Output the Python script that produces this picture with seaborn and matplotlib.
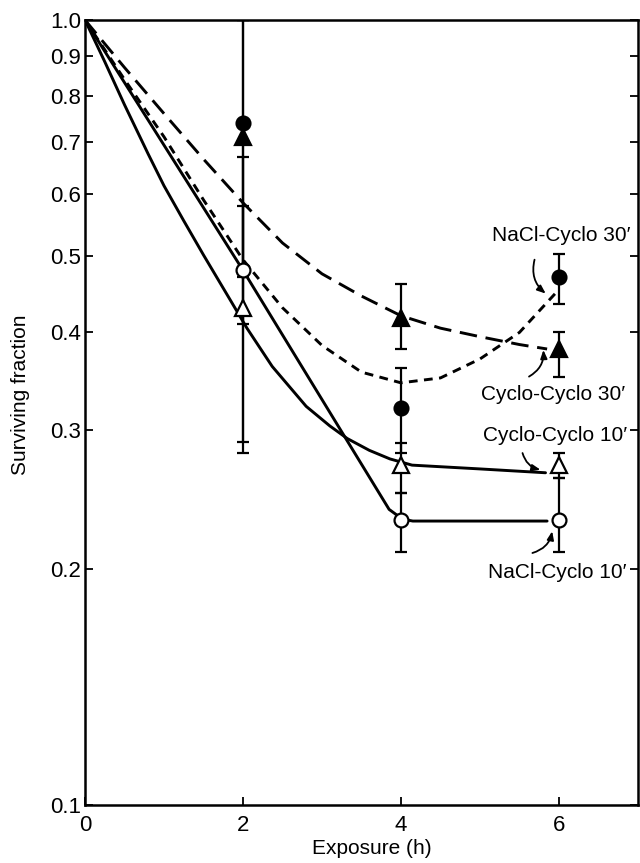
import numpy as np
import pandas as pd
import seaborn as sns
import matplotlib.pyplot as plt

# measured points (exposure in h)
hours = [2, 4, 6]

nacl30 = [0.74, 0.32, 0.471]
nacl30_lo = [0.281, 0.281, 0.435]
nacl30_hi = [1.0, 0.36, 0.503]

cyclo30 = [0.71, 0.417, 0.381]
cyclo30_lo = [0.47, 0.381, 0.351]
cyclo30_hi = [1.0, 0.461, 0.401]

nacl10 = [0.48, 0.231, 0.231]
nacl10_lo = [0.41, 0.21, 0.21]
nacl10_hi = [0.67, 0.25, 0.261]

cyclo10 = [0.43, 0.271, 0.271]
cyclo10_lo = [0.29, 0.25, 0.261]
cyclo10_hi = [0.58, 0.289, 0.281]

# fitted curves
fit_nacl10_x = [0, 2, 3.85, 3.95, 4.05, 4.15, 5.85]
fit_nacl10_y = [1.0, 0.48, 0.238, 0.234, 0.231, 0.23, 0.23]

fit_cyclo10_x = [0, 0.25, 0.5, 0.8, 1.0, 1.25, 1.5, 1.85, 2.05, 2.37, 2.8, 3.1, 3.32, 3.6, 3.86, 4.14, 5.0, 5.83]
fit_cyclo10_y = [1.0, 0.885, 0.78, 0.675, 0.615, 0.555, 0.502, 0.438, 0.405, 0.362, 0.322, 0.304, 0.293, 0.283, 0.276, 0.271, 0.268, 0.265]

fit_nacl30_x = [0, 0.5, 1, 1.5, 2, 2.5, 3, 3.5, 4, 4.5, 5, 5.5, 5.95]
fit_nacl30_y = [1.0, 0.84, 0.71, 0.59, 0.495, 0.43, 0.385, 0.356, 0.345, 0.35, 0.37, 0.40, 0.448]

fit_cyclo30_x = [0, 0.5, 1, 1.5, 2, 2.5, 3, 3.5, 4, 4.5, 5, 5.5, 5.85]
fit_cyclo30_y = [1.0, 0.87, 0.76, 0.665, 0.585, 0.52, 0.475, 0.445, 0.42, 0.405, 0.395, 0.386, 0.381]

yticks = [0.1, 0.2, 0.3, 0.4, 0.5, 0.6, 0.7, 0.8, 0.9, 1.0]
ytick_labels = ['0.1', '0.2', '0.3', '0.4', '0.5', '0.6', '0.7', '0.8', '0.9', '1.0']
xticks = [0, 2, 4, 6]

labels = ["NaCl-Cyclo 30\u2032", "Cyclo-Cyclo 30\u2032", "Cyclo-Cyclo 10\u2032", "NaCl-Cyclo 10\u2032"]
label_xy = [(6.9, 0.531), (6.84, 0.333), (6.86, 0.296), (6.86, 0.198)]
arrow_from = [(5.70, 0.499), (5.59, 0.350), (5.53, 0.283), (5.63, 0.209)]
arrow_to = [(5.86, 0.446), (5.80, 0.383), (5.80, 0.267), (5.92, 0.225)]

sns.set_style('ticks')
plt.rcParams['font.family'] = ['Liberation Sans', 'DejaVu Sans']
plt.rcParams['text.color'] = 'black'
plt.rcParams['axes.labelcolor'] = 'black'
plt.rcParams['xtick.color'] = 'black'
plt.rcParams['ytick.color'] = 'black'
plt.rcParams['axes.edgecolor'] = 'black'

fig = plt.figure(figsize=(6.4, 8.63), dpi=100)
ax = fig.add_axes([0.1328, 0.0672, 0.864, 0.9096])
ax.set_yscale('log')

# curves
curves = [
    (fit_nacl10_x, fit_nacl10_y, '-'),
    (fit_cyclo10_x, fit_cyclo10_y, '-'),
    (fit_nacl30_x, fit_nacl30_y, (0, (3, 2.2))),
    (fit_cyclo30_x, fit_cyclo30_y, (0, (6, 3))),
]
for cx, cy, ls in curves:
    df = pd.DataFrame({'x': cx, 'y': cy})
    sns.lineplot(data=df, x='x', y='y', ax=ax, color='black', lw=2.1,
                 linestyle=ls, sort=False, estimator=None)

# points with error bars
series = [
    (nacl30, nacl30_lo, nacl30_hi, 'o', 'black', 10),
    (cyclo30, cyclo30_lo, cyclo30_hi, '^', 'black', 12),
    (nacl10, nacl10_lo, nacl10_hi, 'o', 'white', 10),
    (cyclo10, cyclo10_lo, cyclo10_hi, '^', 'white', 12),
]
for vals, lo, hi, mk, fc, ms in series:
    v = np.array(vals)
    err = [v - np.array(lo), np.array(hi) - v]
    ax.errorbar(hours, v, yerr=err, fmt='none', ecolor='black',
                elinewidth=1.6, capsize=4, capthick=1.6, zorder=3)
    ax.plot(hours, v, linestyle='none', marker=mk, markersize=ms,
            markerfacecolor=fc, markeredgecolor='black', markeredgewidth=1.6,
            zorder=4)

for txt, (tx, ty), (fx, fy), (px, py) in zip(labels, label_xy, arrow_from, arrow_to):
    ax.text(tx, ty, txt, ha='right', va='center', fontsize=15)
    ax.annotate('', xy=(px, py), xytext=(fx, fy),
                arrowprops=dict(arrowstyle='-|>,head_length=0.5,head_width=0.2',
                                color='black', lw=1.3,
                                connectionstyle='arc3,rad=0.35'))

ax.set_xlim(0, 7)
ax.set_ylim(0.1, 1.0)
ax.set_yticks(yticks)
ax.set_yticklabels(ytick_labels)
ax.yaxis.set_minor_locator(plt.NullLocator())
ax.set_xticks(xticks)
ax.tick_params(axis='both', direction='in', length=6, width=1.3,
               labelsize=16, right=True, top=False)
ax.tick_params(axis='y', pad=3)
ax.tick_params(axis='x', pad=7)
for s in ax.spines.values():
    s.set_linewidth(1.8)
    s.set_visible(True)

ax.set_xlabel('Exposure (h)', fontsize=15)
ax.set_ylabel('Surviving fraction', fontsize=15)
ax.xaxis.set_label_coords(0.519, -0.043)
ax.yaxis.set_label_coords(-0.10, 0.522)

fig.savefig('out.png', dpi=100)
